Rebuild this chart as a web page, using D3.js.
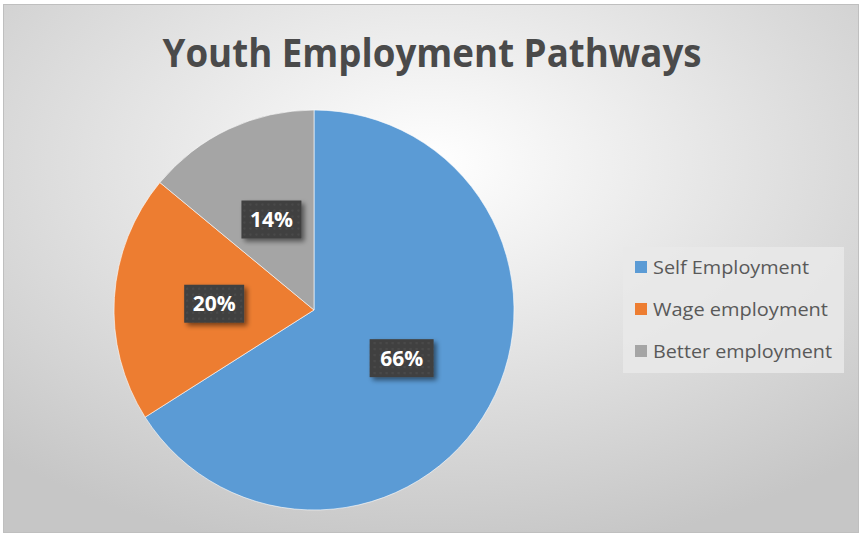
<!DOCTYPE html>
<html><head><meta charset="utf-8">
<script src="https://cdn.jsdelivr.net/npm/d3@7"></script>
<style>html,body{margin:0;padding:0;background:#fff;}svg{display:block;}</style>
</head><body>
<script>
const categories = ["Self Employment", "Wage employment", "Better employment"];
const values = [66, 20, 14];
const labels = ["66%", "20%", "14%"];
const colors = ["#5B9BD5", "#ED7D31", "#A5A5A5"];
const title = "Youth Employment Pathways";

const W = 863, H = 536;
const svg = d3.select("body").append("svg").attr("width", W).attr("height", H);
const defs = svg.append("defs");
const grad = defs.append("radialGradient").attr("id","bg").attr("cx","50%").attr("cy","30%").attr("r","75%");
grad.append("stop").attr("offset","0%").attr("stop-color","#ffffff");
grad.append("stop").attr("offset","100%").attr("stop-color","#c6c6c6");
const pat = defs.append("pattern").attr("id","dots").attr("width",6).attr("height",6).attr("patternUnits","userSpaceOnUse");
pat.append("rect").attr("width",6).attr("height",6).attr("fill","#404040");
pat.append("circle").attr("cx",3).attr("cy",3).attr("r",1.2).attr("fill","#4a4a4a");
const sh = defs.append("filter").attr("id","sh").attr("x","-30%").attr("y","-30%").attr("width","170%").attr("height","170%");
sh.append("feGaussianBlur").attr("in","SourceAlpha").attr("stdDeviation",2.5);
sh.append("feOffset").attr("dx",3).attr("dy",3).attr("result","b");
sh.append("feComponentTransfer").append("feFuncA").attr("type","linear").attr("slope",0.5);
const m = sh.append("feMerge"); m.append("feMergeNode"); m.append("feMergeNode").attr("in","SourceGraphic");

svg.append("rect").attr("x",3.5).attr("y",4.5).attr("width",855).attr("height",528)
  .attr("fill","url(#bg)").attr("stroke","#bfbfbf").attr("stroke-width",1);

svg.append("text").attr("x",432).attr("y",67).attr("text-anchor","middle")
  .attr("font-family","'Open Sans', 'Liberation Sans', sans-serif").attr("font-weight","bold")
  .attr("font-size",39).attr("fill","#4a4a4a")
  .attr("textLength",539).attr("lengthAdjust","spacingAndGlyphs").text(title);

const cx = 314, cy = 310, R = 200;
const pie = d3.pie().sort(null).value(d => d)(values);
const arc = d3.arc().innerRadius(0).outerRadius(R);
const g = svg.append("g").attr("transform",`translate(${cx},${cy})`);
g.selectAll("path").data(pie).join("path").attr("d",arc)
  .attr("fill",(d,i)=>colors[i]).attr("stroke","#ffffff").attr("stroke-width",0.6);

const lArc = d3.arc().innerRadius(R/2).outerRadius(R/2);
const bw = [64, 60, 60], bh = 38;
const lg = g.selectAll("g.lab").data(pie).join("g").attr("class","lab")
  .attr("transform", d => `translate(${lArc.centroid(d)})`);
lg.append("rect").attr("x",(d,i)=>-bw[i]/2).attr("y",-bh/2).attr("width",(d,i)=>bw[i]).attr("height",bh)
  .attr("fill","url(#dots)").attr("filter","url(#sh)");
lg.append("text").attr("text-anchor","middle").attr("dy","0.36em")
  .attr("font-family","'Open Sans', 'Liberation Sans', sans-serif").attr("font-weight","bold")
  .attr("font-size",21).attr("fill","#ffffff").text((d,i)=>labels[i]);

const leg = svg.append("g");
leg.append("rect").attr("x",623).attr("y",247).attr("width",221).attr("height",126).attr("fill","#e9e9e9").attr("opacity",0.85);
const ly = d3.scalePoint().domain(categories).range([267, 351]);
const li = leg.selectAll("g.li").data(categories).join("g").attr("class","li")
  .attr("transform", d => `translate(0,${ly(d)})`);
li.append("rect").attr("x",635).attr("y",-6).attr("width",12).attr("height",12).attr("fill",(d,i)=>colors[i]);
const legLen = [156, 175, 179];
li.append("text").attr("x",653).attr("dy","0.35em")
  .attr("font-family","'Open Sans', 'Liberation Sans', sans-serif").attr("font-size",19).attr("fill","#595959")
  .attr("textLength",(d,i)=>legLen[i]).attr("lengthAdjust","spacingAndGlyphs").text(d=>d);
</script>
</body></html>
